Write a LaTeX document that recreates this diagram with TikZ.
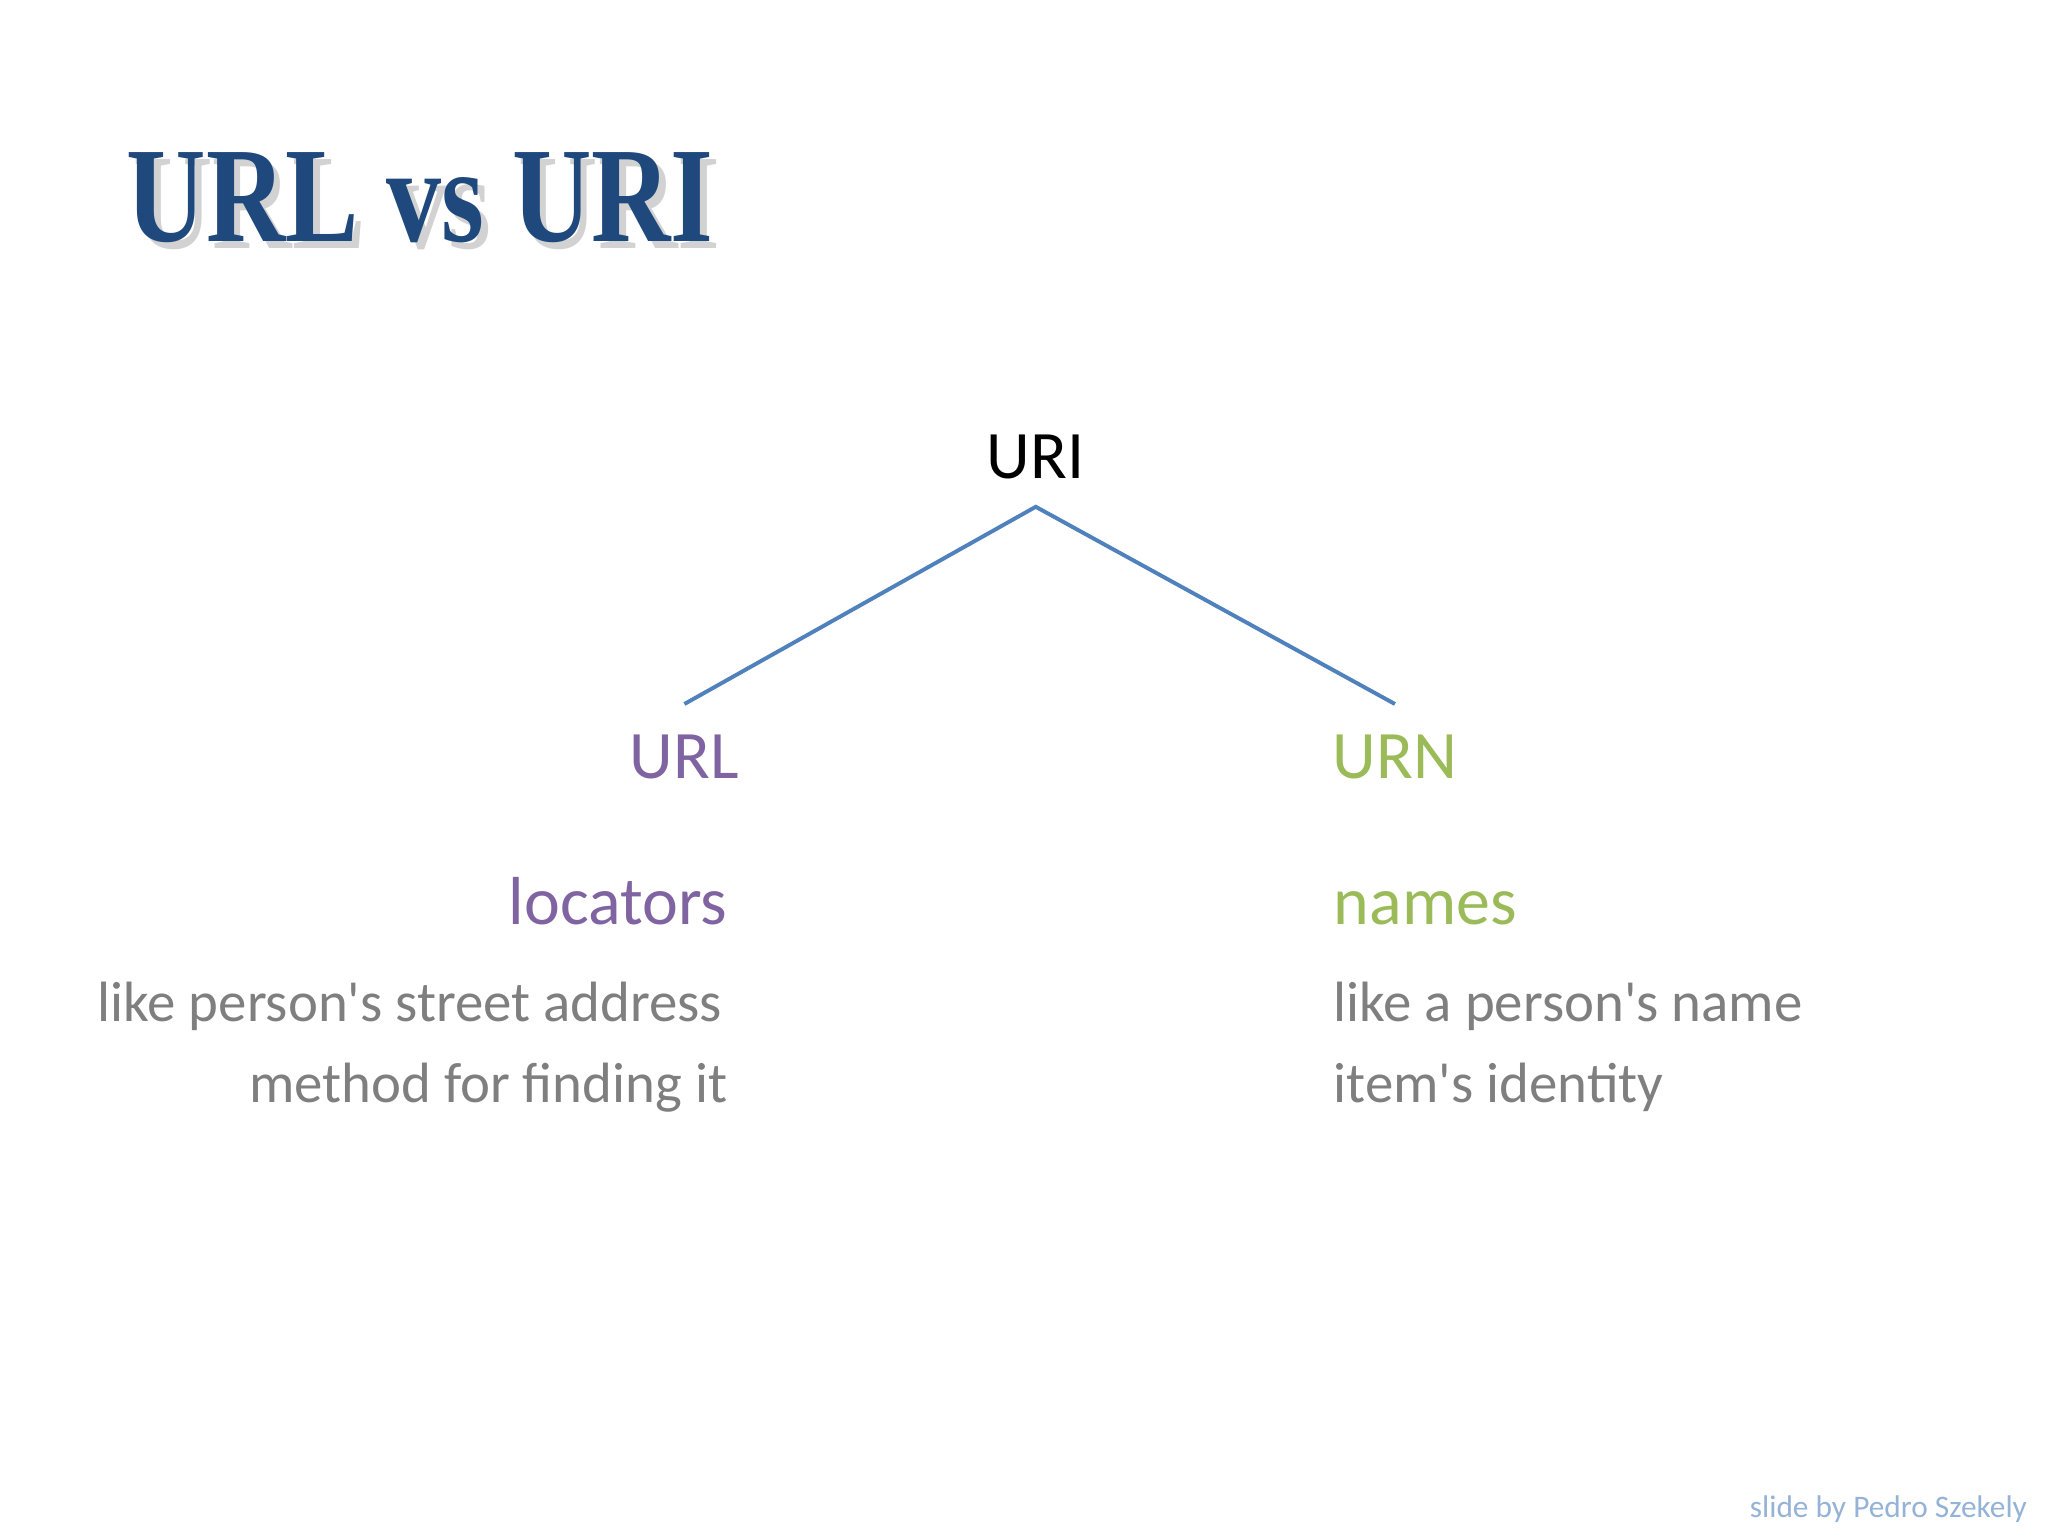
\documentclass[tikz,border=0pt]{standalone}
\usepackage{fontspec}
\setmainfont{Carlito}[Ligatures=TeXOff]
\newfontfamily\titlefont{Liberation Serif}
\definecolor{titleblue}{HTML}{1F497D}
\definecolor{lineblue}{HTML}{4F81BD}
\definecolor{urlpurple}{HTML}{8064A2}
\definecolor{urngreen}{HTML}{9BBB59}
\definecolor{txtgray}{HTML}{7F7F7F}
\definecolor{footblue}{HTML}{95B3D7}
\begin{document}
\begin{tikzpicture}[x=1pt,y=-1pt,
  big/.style={font=\fontsize{52}{60}\selectfont, inner sep=0pt, anchor=base},
  small/.style={font=\fontsize{43.5}{52}\selectfont, inner sep=0pt, text=txtgray},
  ttl/.style={anchor=base west, inner sep=0pt, font=\titlefont\bfseries\fontsize{104}{110}\selectfont}]
\fill[white] (0,0) rectangle (1568,1176);
\useasboundingbox (0,0) rectangle (1568,1176);
\node[ttl, text=gray!35] at (102,190) {\scalebox{0.81}[1]{URL vs URI}};
\node (title) [ttl, text=titleblue] at (97,185) {\scalebox{0.81}[1]{URL vs URI}};
\node (uri) [big] at (793,366) {URI};
\node (url) [big, text=urlpurple] at (524,596) {URL};
\node (urn) [big, text=urngreen] at (1068,596) {URN};
\coordinate (top) at (793,388);
\coordinate (lend) at (524,539);
\coordinate (rend) at (1068,539);
\draw[draw=lineblue, line width=3pt] (lend) -- (top) -- (rend);
\node (loc) [big, anchor=base east, text=urlpurple] at (557,708) {locators};
\node (nam) [big, anchor=base west, text=urngreen] at (1021,708) {names};
\node (l1) [small, anchor=base east] at (553,782) {like person's street address};
\node (l2) [small, anchor=base east] at (557,844) {method for finding it};
\node (r1) [small, anchor=base west] at (1021,782) {like a person's name};
\node (r2) [small, anchor=base west] at (1021,844) {item's identity};
\node (foot) [anchor=base east, inner sep=0pt, text=footblue, font=\fontsize{24}{28}\selectfont] at (1552,1162) {slide by Pedro Szekely};
\end{tikzpicture}
\end{document}
